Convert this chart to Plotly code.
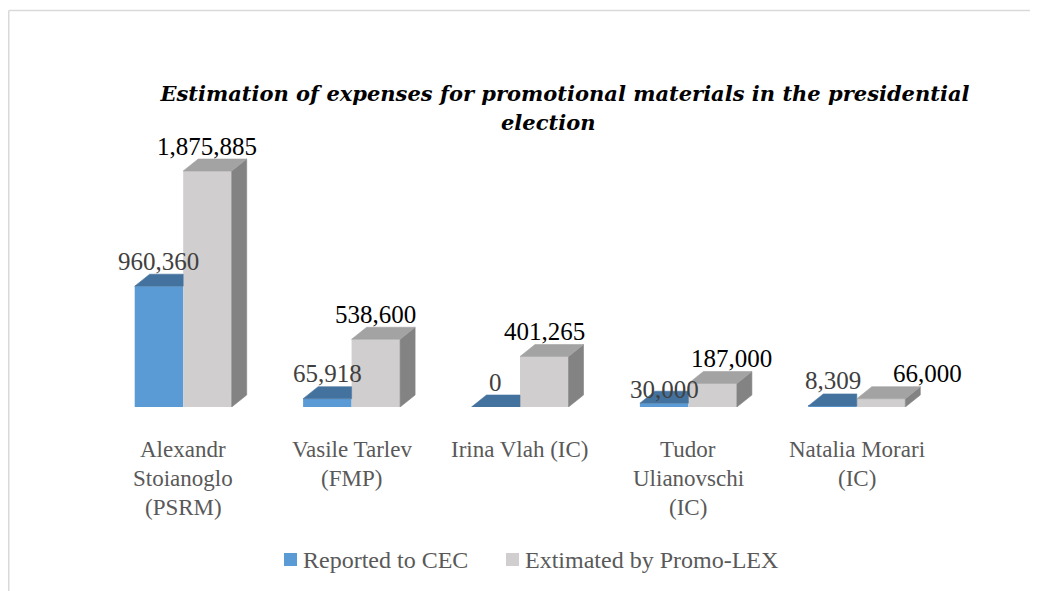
import plotly.graph_objects as go

# ---------------- data ----------------
categories = [
    ["Alexandr", "Stoianoglo", "(PSRM)"],
    ["Vasile Tarlev", "(FMP)"],
    ["Irina Vlah (IC)"],
    ["Tudor", "Ulianovschi", "(IC)"],
    ["Natalia Morari", "(IC)"],
]
series_names = ["Reported to CEC", "Extimated by Promo-LEX"]
reported = [960360, 65918, 0, 30000, 8309]
estimated = [1875885, 538600, 401265, 187000, 66000]
title_lines = ["Estimation of expenses for promotional materials in the presidential",
               "election"]

# ---------------- layout constants (figure pixels) ----------------
W, H = 1038, 591
ML, MR, MT, MB = 91, 105, 60, 192
YMAX = 2694600
plot_w = W - ML - MR
plot_h = H - MT - MB
px_per_x = plot_w / 5.0
units_per_px = YMAX / plot_h

BAR_W = 0.288
DX = 15 / px_per_x            # depth in x units
DY = 12 * units_per_px        # depth in y units

BLUE_FRONT, BLUE_TOP = "#5B9BD5", "#44729E"
GRAY_FRONT, GRAY_TOP, GRAY_SIDE = "#D0CECE", "#A3A3A3", "#838383"
FONT = "Liberation Serif"
TITLE_FONT = "DejaVu Serif"
LABEL_GRAY = "#595959"


def px_x(xf):
    return (xf - ML) / plot_w


def px_y(yf):
    return (H - MB - yf) / plot_h


x_idx = list(range(len(categories)))

fig = go.Figure()
fig.add_trace(go.Bar(x=x_idx, y=reported, name=series_names[0], width=BAR_W,
                     offset=-BAR_W, marker=dict(color=BLUE_FRONT, line=dict(width=0)),
                     hoverinfo="skip", showlegend=False))
fig.add_trace(go.Bar(x=x_idx, y=estimated, name=series_names[1], width=BAR_W,
                     offset=0, marker=dict(color=GRAY_FRONT, line=dict(width=0)),
                     hoverinfo="skip", showlegend=False))


def poly(xs, ys, color):
    fig.add_trace(go.Scatter(x=xs, y=ys, mode="lines", fill="toself",
                             fillcolor=color, line=dict(color=color, width=0.6),
                             showlegend=False, hoverinfo="skip"))


for i, (r, e) in enumerate(zip(reported, estimated)):
    # blue top face (back-right part hidden behind the gray bar)
    x0, x1 = i - BAR_W, i
    poly([x0, x1, x1, x0 + DX, x0], [r, r, r + DY, r + DY, r], BLUE_TOP)
    # gray side face
    g0, g1 = i, i + BAR_W
    poly([g1, g1 + DX, g1 + DX, g1, g1], [0, DY, e + DY, e, 0], GRAY_SIDE)
    # gray top face
    poly([g0, g1, g1 + DX, g0 + DX, g0], [e, e, e + DY, e + DY, e], GRAY_TOP)

# value labels (with Excel-like collision nudges, in pixels)
nudges = {("r", 3): (0, -11), ("e", 3): (19, 0), ("e", 4): (46, 0)}
for i, (r, e) in enumerate(zip(reported, estimated)):
    for key, val, xc, col in (("r", r, i - BAR_W / 2, "#404040"),
                              ("e", e, i + BAR_W / 2, "#000000")):
        nx, ny = nudges.get((key, i), (0, 0))
        fig.add_annotation(x=xc, y=val + DY, text=f"{val:,}", showarrow=False,
                           xanchor="center", yanchor="middle",
                           xshift=nx, yshift=13 + ny,
                           font=dict(family=FONT, size=25, color=col))

# category labels
for i, lines in enumerate(categories):
    for j, line in enumerate(lines):
        fig.add_annotation(x=i, y=0, text=line, showarrow=False,
                           xanchor="center", yanchor="middle",
                           yshift=-(42 + 29 * j),
                           font=dict(family=FONT, size=23, color=LABEL_GRAY))

# custom legend
legend_items = [(series_names[0], BLUE_FRONT, 276), (series_names[1], GRAY_FRONT, 498)]
for name, color, xf in legend_items:
    fig.add_shape(type="rect", xref="paper", yref="paper",
                  x0=px_x(xf), x1=px_x(xf + 13), y0=px_y(545), y1=px_y(558),
                  fillcolor=color, line=dict(width=0))
    fig.add_annotation(xref="paper", yref="paper", x=px_x(xf + 17), y=px_y(551.5),
                       text=name, showarrow=False, xanchor="left", yanchor="middle",
                       font=dict(family=FONT, size=24, color=LABEL_GRAY))

# title second line (tighter line spacing than plotly's default)
fig.add_annotation(xref="paper", yref="paper", x=px_x(540), y=px_y(115),
                   text=f"<b><i>{title_lines[1]}</i></b>", showarrow=False,
                   xanchor="center", yanchor="middle",
                   font=dict(family=TITLE_FONT, size=21, color="#000000"))

# chart area border (top and left edges visible)
fig.add_shape(type="line", xref="paper", yref="paper",
              x0=px_x(0.75), x1=px_x(W + 5), y0=px_y(2.5), y1=px_y(2.5),
              line=dict(color="#D9D9D9", width=1.5))
fig.add_shape(type="line", xref="paper", yref="paper",
              x0=px_x(0.75), x1=px_x(0.75), y0=px_y(2.5), y1=px_y(H + 5),
              line=dict(color="#D9D9D9", width=1.5))

fig.update_layout(
    width=W, height=H,
    margin=dict(l=ML, r=MR, t=MT, b=MB, autoexpand=False),
    paper_bgcolor="white", plot_bgcolor="white",
    barmode="overlay",
    title=dict(text=f"<b><i>{title_lines[0]}</i></b>",
               x=557 / W, xanchor="center", xref="container",
               y=1 - 86 / H, yanchor="middle", yref="container",
               font=dict(family=TITLE_FONT, size=21, color="#000000")),
    xaxis=dict(range=[-0.5, 4.5], visible=False, fixedrange=True),
    yaxis=dict(range=[0, YMAX], visible=False, fixedrange=True),
    showlegend=False,
)

fig.write_html("out.html")
